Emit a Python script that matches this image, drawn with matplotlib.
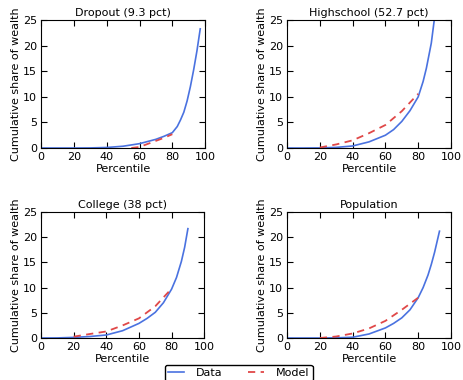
import matplotlib
matplotlib.use("Agg")
import matplotlib.pyplot as plt

# ---- data ----
titles = ["Dropout (9.3 pct)", "Highschool (52.7 pct)", "College (38 pct)", "Population"]

drop_data_x = [0, 10, 20, 30, 40, 50, 60, 70, 75, 80, 83, 85, 87, 89, 91, 93, 95, 97]
drop_data_y = [0, 0, 0, 0.02, 0.1, 0.35, 0.85, 1.7, 2.3, 3.0, 4.2, 5.5, 7.0, 9.2, 12.0, 15.3, 19.0, 23.3]
drop_model_x = [55, 60, 65, 70, 75, 80]
drop_model_y = [0, 0.2, 0.8, 1.4, 2.0, 2.7]

hs_data_x = [0, 10, 20, 30, 40, 50, 60, 65, 70, 75, 80, 83, 85, 88, 90]
hs_data_y = [0, 0, 0.02, 0.12, 0.4, 1.2, 2.5, 3.6, 5.2, 7.3, 10.0, 13.0, 15.6, 20.5, 25.5]
hs_model_x = [20, 30, 40, 50, 60, 70, 80]
hs_model_y = [0.1, 0.7, 1.5, 2.9, 4.5, 7.2, 10.6]

col_data_x = [0, 10, 20, 30, 40, 50, 60, 65, 70, 75, 80, 83, 86, 88, 90]
col_data_y = [0, 0.02, 0.12, 0.3, 0.6, 1.45, 2.9, 3.9, 5.1, 7.0, 9.7, 12.0, 15.2, 18.0, 21.7]
col_model_x = [20, 30, 40, 50, 60, 70, 80]
col_model_y = [0.27, 0.8, 1.3, 2.5, 3.9, 6.3, 9.8]

pop_data_x = [0, 10, 20, 30, 40, 50, 60, 65, 70, 75, 80, 83, 86, 88, 90, 93]
pop_data_y = [0, 0, 0, 0.03, 0.15, 0.8, 2.0, 2.9, 4.0, 5.6, 8.0, 10.0, 12.5, 14.6, 17.0, 21.2]
pop_model_x = [20, 30, 40, 50, 60, 70, 80]
pop_model_y = [0, 0.3, 0.9, 1.9, 3.4, 5.6, 8.0]

series = [
    (drop_data_x, drop_data_y, drop_model_x, drop_model_y),
    (hs_data_x, hs_data_y, hs_model_x, hs_model_y),
    (col_data_x, col_data_y, col_model_x, col_model_y),
    (pop_data_x, pop_data_y, pop_model_x, pop_model_y),
]

xticks = [0, 20, 40, 60, 80, 100]
yticks = [0, 5, 10, 15, 20, 25]

plt.rcParams.update({
    "font.family": "DejaVu Sans",
    "font.size": 8,
    "xtick.direction": "in",
    "ytick.direction": "in",
    "xtick.top": True,
    "ytick.right": True,
    "xtick.major.size": 4,
    "ytick.major.size": 4,
    "xtick.major.pad": 3,
    "ytick.major.pad": 3,
})

fig = plt.figure(figsize=(4.63, 3.80), dpi=100)
positions = [
    (0.0886, 0.6105, 0.3545, 0.3365),
    (0.620, 0.6105, 0.354, 0.3365),
    (0.0886, 0.1105, 0.3525, 0.3315),
    (0.620, 0.1105, 0.354, 0.3315),
]

blue = "#4a72e0"
red = "#e04848"
handles = None
for pos, title, (dx, dy, mx, my) in zip(positions, titles, series):
    ax = fig.add_axes(pos)
    l1, = ax.plot(dx, dy, color=blue, lw=1.2, label="Data")
    l2, = ax.plot(mx, my, color=red, lw=1.3, ls=(0, (4, 3)), label="Model")
    ax.set_xlim(0, 100)
    ax.set_ylim(0, 25)
    ax.set_xticks(xticks)
    ax.set_yticks(yticks)
    ax.set_title(title, fontsize=8, pad=3)
    ax.set_xlabel("Percentile", labelpad=1)
    ax.set_ylabel("Cumulative share of wealth", labelpad=1)
    handles = [l1, l2]

fig.legend(handles, ["Data", "Model"], loc="upper center", ncol=2,
           bbox_to_anchor=(0.516, 0.039), frameon=True, fancybox=True,
           edgecolor="black", framealpha=1, fontsize=8, handlelength=1.45,
           handletextpad=1.1, columnspacing=2.25, borderpad=0.25,
           borderaxespad=0.0)

fig.savefig("out.png", dpi=100, facecolor="white")
